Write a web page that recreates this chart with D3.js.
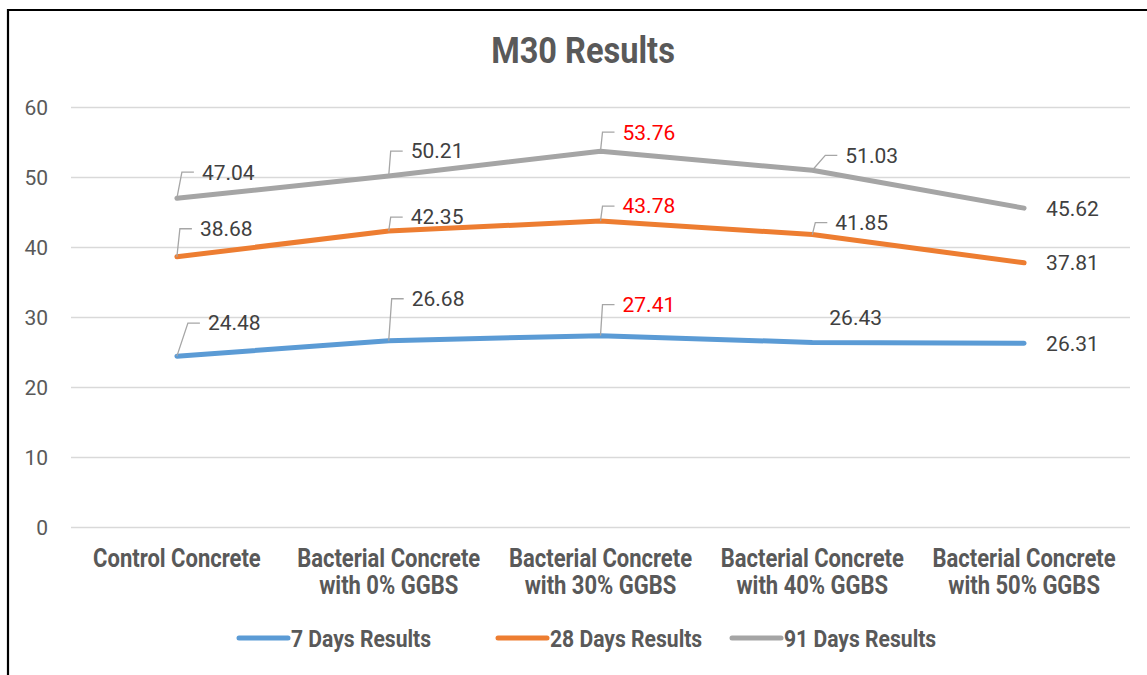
<!DOCTYPE html>
<html>
<head>
<meta charset="utf-8">
<script src="https://cdn.jsdelivr.net/npm/d3@7"></script>
<style>
  html, body { margin: 0; padding: 0; background: #fff; }
  svg { display: block; }
</style>
</head>
<body>
<svg id="chart" width="1147" height="675"></svg>
<script>
// M30 compressive strength results
const categories = [
  ["Control Concrete"],
  ["Bacterial Concrete", "with 0% GGBS"],
  ["Bacterial Concrete", "with 30% GGBS"],
  ["Bacterial Concrete", "with 40% GGBS"],
  ["Bacterial Concrete", "with 50% GGBS"]
];
const seriesNames = ["7 Days Results", "28 Days Results", "91 Days Results"];
const days7  = [24.48, 26.68, 27.41, 26.43, 26.31];
const days28 = [38.68, 42.35, 43.78, 41.85, 37.81];
const days91 = [47.04, 50.21, 53.76, 51.03, 45.62];
const yTicks = [0, 10, 20, 30, 40, 50, 60];
const highlightIndex = 2; // best mix, labelled in red

const colors = ["#5B9BD5", "#ED7D31", "#A5A5A5"];

// data label placement: [dx, dy, leader] relative to the point
const labelPlacement = [
  [[31, -33, true], [23, -42, true], [22, -31, true], [17, -25, false], [22, 0, false]],
  [[23, -28, true], [22, -14, true], [22, -15, true], [23, -12, true], [22, 0, false]],
  [[25, -26, true], [22, -25, true], [22, -19, true], [33, -15, true], [22, 0, false]]
];

const series = [days7, days28, days91].map((values, i) => ({
  name: seriesNames[i], values, color: colors[i], place: labelPlacement[i]
}));

const svg = d3.select("#chart");
const W = 1147, H = 675;

// outer frame (left and top edges)
svg.append("path")
  .attr("d", `M8,${H} V10 H${W}`)
  .attr("fill", "none").attr("stroke", "#000").attr("stroke-width", 2.2);

const plot = { left: 71, right: 1130, top: 107.5, bottom: 527.5 };

const x = d3.scaleBand()
  .domain(d3.range(categories.length))
  .range([plot.left, plot.right]);
const y = d3.scaleLinear().domain([0, 60]).range([plot.bottom, plot.top]);
const cx = i => x(i) + x.bandwidth() / 2;

const labelFont = "Roboto, 'Noto Sans', sans-serif";
const narrow = 0.88; // horizontal squeeze for the condensed bold captions

// bold condensed caption text placed at (tx, ty)
function boldText(parent, tx, ty, size, anchor, lines, lineGap) {
  const t = parent.append("text")
    .attr("transform", `translate(${tx},${ty}) scale(${narrow},1)`)
    .attr("text-anchor", anchor)
    .attr("font-family", labelFont).attr("font-weight", 700)
    .attr("font-size", size).attr("fill", "#595959");
  lines.forEach((ln, k) => {
    t.append("tspan").attr("x", 0).attr("y", k * (lineGap || 0)).text(ln);
  });
  return t;
}

// title
boldText(svg, 583, 63, 37, "middle", ["M30 Results"]);

// gridlines
svg.append("g")
  .selectAll("line").data(yTicks).join("line")
  .attr("x1", plot.left).attr("x2", plot.right)
  .attr("y1", d => y(d)).attr("y2", d => y(d))
  .attr("stroke", "#D9D9D9").attr("stroke-width", 1.3);

// y axis labels
const yAxis = d3.axisLeft(y).tickValues(yTicks).tickSize(0).tickPadding(0);
const yg = svg.append("g").attr("transform", "translate(48,0)").call(yAxis);
yg.select(".domain").remove();
yg.selectAll("text")
  .attr("font-family", labelFont).attr("font-size", 21)
  .attr("fill", "#595959").attr("dy", "0.35em");

// category labels
const xg = svg.append("g");
categories.forEach((lines, i) => {
  boldText(xg, cx(i), 566.5, 25, "middle", lines, 28);
});

// series lines
const line = d3.line().x((d, i) => cx(i)).y(d => y(d));
svg.append("g").selectAll("path").data(series).join("path")
  .attr("d", s => line(s.values))
  .attr("fill", "none")
  .attr("stroke", s => s.color)
  .attr("stroke-width", 5)
  .attr("stroke-linecap", "round")
  .attr("stroke-linejoin", "round");

// data labels with leader lines
series.forEach(s => {
  const g = svg.append("g");
  s.values.forEach((v, i) => {
    const [dx, dy, leader] = s.place[i];
    const px = cx(i), py = y(v);
    const tx = px + dx, ty = py + dy;
    if (leader) {
      g.append("path")
        .attr("d", `M${px},${py} L${tx - 20},${ty} H${tx - 8}`)
        .attr("fill", "none").attr("stroke", "#A6A6A6").attr("stroke-width", 1.3);
    }
    g.append("text")
      .attr("x", tx).attr("y", ty).attr("dy", "0.35em")
      .attr("font-family", labelFont).attr("font-size", 21)
      .attr("fill", i === highlightIndex ? "#FF0000" : "#404040")
      .text(v.toFixed(2));
  });
});

// legend
const legendStarts = [237, 496, 730];
const lg = svg.append("g");
series.forEach((s, i) => {
  const lx = legendStarts[i];
  lg.append("line")
    .attr("x1", lx + 2).attr("x2", lx + 51)
    .attr("y1", 638).attr("y2", 638)
    .attr("stroke", s.color).attr("stroke-width", 5)
    .attr("stroke-linecap", "round");
  boldText(lg, lx + 54, 646.5, 24, "start", [s.name]);
});
</script>
</body>
</html>
